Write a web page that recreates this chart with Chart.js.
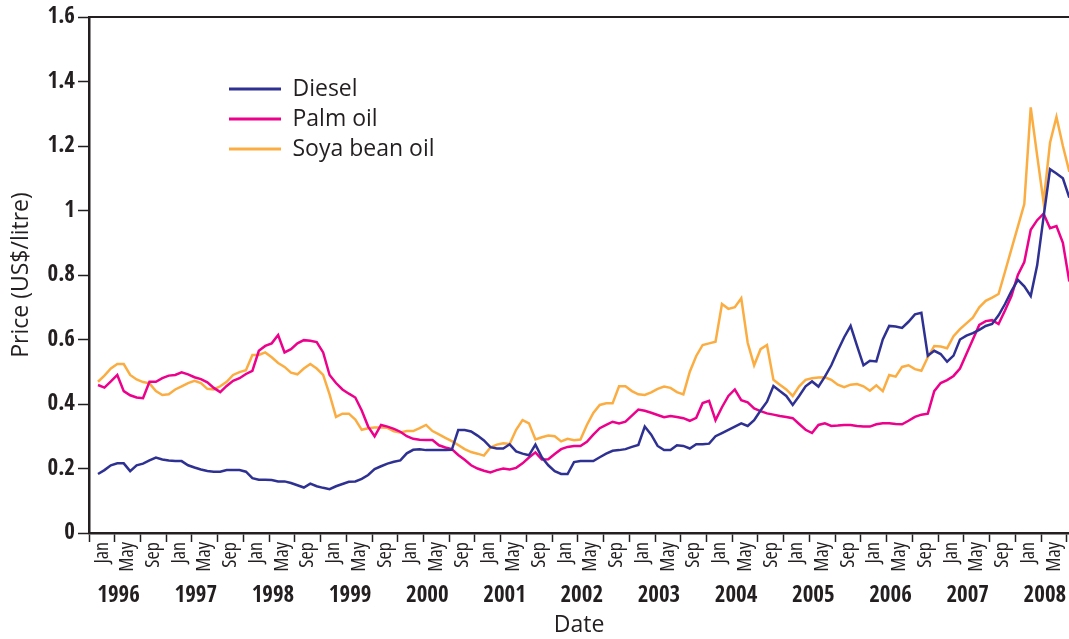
<!DOCTYPE html>
<html>
<head>
<meta charset="utf-8">
<script src="https://cdn.jsdelivr.net/npm/chart.js@4/dist/chart.umd.min.js"></script>
<style>
  html, body { margin: 0; padding: 0; background: #ffffff; }
  #wrap { width: 1069px; height: 639px; position: relative; }
</style>
</head>
<body>
<div id="wrap"><canvas id="c"></canvas></div>
<script>
// ---- data ----
const years = [1996, 1997, 1998, 1999, 2000, 2001, 2002, 2003, 2004, 2005, 2006, 2007, 2008];
const tickMonths = ['Jan', 'May', 'Sep'];
const monthNames = ['Jan','Feb','Mar','Apr','May','Jun','Jul','Aug','Sep','Oct','Nov','Dec'];
const categories = [];
years.forEach(y => monthNames.forEach(m => categories.push(m + ' ' + y)));
categories.length = 152; // Jan 1996 .. Aug 2008

const diesel = [
0.183,0.195,0.21,0.216,0.216,0.192,0.21,0.215,0.225,0.234,
0.228,0.225,0.223,0.223,0.21,0.203,0.197,0.192,0.19,0.19,
0.195,0.195,0.195,0.19,0.17,0.165,0.165,0.164,0.16,0.16,
0.155,0.148,0.141,0.153,0.145,0.14,0.136,0.145,0.152,0.159,
0.16,0.168,0.18,0.198,0.207,0.215,0.221,0.225,0.247,0.258,
0.26,0.257,0.257,0.257,0.257,0.258,0.319,0.319,0.315,0.302,
0.287,0.266,0.262,0.262,0.275,0.253,0.246,0.241,0.274,0.235,
0.21,0.192,0.183,0.183,0.22,0.223,0.223,0.223,0.235,0.246,
0.255,0.257,0.26,0.267,0.273,0.33,0.305,0.27,0.257,0.257,
0.272,0.27,0.262,0.275,0.275,0.277,0.30,0.31,0.32,0.33,
0.34,0.332,0.35,0.38,0.407,0.456,0.44,0.425,0.397,0.425,
0.455,0.47,0.454,0.485,0.52,0.565,0.607,0.642,0.58,0.52,
0.534,0.532,0.60,0.642,0.64,0.636,0.655,0.678,0.683,0.55,
0.565,0.555,0.531,0.55,0.60,0.612,0.62,0.63,0.642,0.648,
0.675,0.71,0.75,0.785,0.765,0.735,0.83,0.98,1.128,1.115,
1.1,1.04];

const palmOil = [
0.459,0.451,0.47,0.49,0.44,0.427,0.42,0.418,0.469,0.469,
0.48,0.488,0.49,0.498,0.492,0.483,0.477,0.467,0.45,0.437,
0.456,0.472,0.48,0.493,0.503,0.565,0.58,0.588,0.614,0.56,
0.57,0.588,0.598,0.596,0.592,0.56,0.49,0.465,0.445,0.432,
0.42,0.38,0.33,0.3,0.335,0.33,0.323,0.314,0.30,0.292,
0.289,0.288,0.288,0.272,0.265,0.26,0.242,0.227,0.21,0.2,
0.193,0.188,0.195,0.2,0.197,0.202,0.216,0.234,0.25,0.228,
0.229,0.245,0.26,0.267,0.27,0.27,0.283,0.305,0.325,0.335,
0.345,0.34,0.345,0.364,0.383,0.379,0.373,0.366,0.359,0.363,
0.36,0.356,0.348,0.357,0.403,0.41,0.35,0.39,0.425,0.445,
0.412,0.405,0.386,0.378,0.371,0.367,0.363,0.36,0.356,0.338,
0.32,0.31,0.335,0.34,0.332,0.333,0.335,0.335,0.332,0.33,
0.33,0.337,0.34,0.34,0.338,0.337,0.348,0.36,0.367,0.37,
0.44,0.465,0.474,0.487,0.51,0.555,0.6,0.645,0.657,0.66,
0.648,0.69,0.735,0.8,0.84,0.94,0.97,0.99,0.945,0.952,
0.9,0.78];

const soyaBeanOil = [
0.469,0.488,0.51,0.524,0.524,0.49,0.476,0.468,0.464,0.44,
0.428,0.43,0.445,0.455,0.465,0.472,0.465,0.447,0.445,0.455,
0.469,0.49,0.499,0.505,0.552,0.552,0.56,0.545,0.527,0.515,
0.497,0.492,0.51,0.524,0.51,0.49,0.43,0.36,0.37,0.37,
0.352,0.32,0.325,0.327,0.327,0.326,0.315,0.312,0.316,0.316,
0.325,0.335,0.316,0.306,0.295,0.285,0.273,0.26,0.251,0.246,
0.24,0.265,0.274,0.278,0.276,0.32,0.35,0.34,0.29,0.297,
0.302,0.3,0.284,0.292,0.288,0.29,0.335,0.372,0.397,0.402,
0.402,0.455,0.455,0.44,0.43,0.428,0.436,0.447,0.454,0.45,
0.437,0.43,0.5,0.549,0.583,0.588,0.593,0.71,0.695,0.70,
0.728,0.59,0.52,0.57,0.583,0.475,0.46,0.445,0.425,0.455,
0.475,0.48,0.482,0.483,0.475,0.46,0.452,0.46,0.462,0.455,
0.441,0.458,0.44,0.49,0.485,0.515,0.52,0.508,0.503,0.545,
0.58,0.578,0.573,0.61,0.632,0.65,0.668,0.70,0.72,0.73,
0.741,0.81,0.88,0.95,1.02,1.32,1.17,1.025,1.21,1.29,
1.2,1.12];

const yTicks = [0, 0.2, 0.4, 0.6, 0.8, 1, 1.2, 1.4, 1.6];

// ---- layout / style constants ----
const T0 = -1.4;          // axis boundary of Jan 1996 (in months from first data point)
const X_MAX = 150.95;     // right edge of the plot (chart is cropped there)
const YEAR_OFFSET = 4.6;  // year label position within each year
const INK = '#231f20';
const BOLD_COND = "'Open Sans Condensed', 'Roboto Condensed', sans-serif";
const TEXT_FONT = "'Open Sans', 'Noto Sans', sans-serif";
const LEGEND_X = 229, LEGEND_Y = 77.5;

const toPoints = arr => arr.map((v, i) => ({ x: i, y: v }));

const legendPlace = {
  id: 'legendPlace',
  afterLayout(chart) {
    const lg = chart.legend;
    if (!lg) return;
    const pad = lg.options.labels.padding;
    const w = lg.width, h = lg.height;
    lg.left = LEGEND_X - pad; lg.top = LEGEND_Y - pad;
    lg.right = lg.left + w; lg.bottom = lg.top + h;
  }
};

new Chart(document.getElementById('c'), {
  type: 'line',
  data: {
    datasets: [
      { label: 'Diesel', data: toPoints(diesel), borderColor: '#2E3192', backgroundColor: '#2E3192' },
      { label: 'Palm oil', data: toPoints(palmOil), borderColor: '#EC008C', backgroundColor: '#EC008C' },
      { label: 'Soya bean oil', data: toPoints(soyaBeanOil), borderColor: '#FBAD42', backgroundColor: '#FBAD42' }
    ]
  },
  options: {
    responsive: true,
    maintainAspectRatio: false,
    devicePixelRatio: 1,
    animation: false,
    layout: { padding: { top: 17, left: 0, right: 0, bottom: 0 } },
    elements: {
      line: { borderWidth: 2.5, tension: 0, borderJoinStyle: 'miter' },
      point: { radius: 0, hoverRadius: 0 }
    },
    plugins: {
      tooltip: { enabled: false },
      legend: {
        position: 'chartArea',
        align: 'start',
        labels: {
          boxWidth: 52, boxHeight: 3, padding: 7, color: INK,
          font: { family: TEXT_FONT, size: 23 },
          generateLabels: (chart) => Chart.defaults.plugins.legend.labels.generateLabels(chart)
            .map(l => Object.assign(l, { lineWidth: 0, fillStyle: l.strokeStyle }))
        }
      }
    },
    scales: {
      x: {
        type: 'linear', position: 'bottom', weight: 0,
        min: T0, max: X_MAX,
        afterBuildTicks: (s) => {
          const t = [];
          for (let j = 0; T0 + 2 * j <= X_MAX + 1e-6; j++) t.push({ value: T0 + 2 * j });
          s.ticks = t;
        },
        afterFit: (s) => { s.height = 42; s.paddingLeft = 0; s.paddingRight = 0; },
        ticks: {
          autoSkip: false, minRotation: 90, maxRotation: 90, padding: 0, color: INK,
          font: { family: "'Open Sans', sans-serif", size: 20, weight: 'condensed' },
          callback: (v, i) => (i % 2 === 1 ? tickMonths[((i - 1) / 2) % 3] : '')
        },
        grid: {
          drawOnChartArea: false, drawTicks: true, tickLength: 9, tickWidth: 1.5,
          tickColor: (ctx) => (ctx.index % 2 === 0 ? INK : 'rgba(0,0,0,0)')
        },
        border: { display: true, color: INK, width: 2.5 }
      },
      yearAxis: {
        type: 'linear', position: 'bottom', weight: 1,
        min: T0, max: X_MAX,
        afterBuildTicks: (s) => { s.ticks = years.map((y, k) => ({ value: T0 + YEAR_OFFSET + 12 * k })); },
        afterFit: (s) => { s.height = 64; s.paddingLeft = 0; s.paddingRight = 0; },
        ticks: {
          autoSkip: false, maxRotation: 0, minRotation: 0, padding: 7, color: INK,
          font: { family: BOLD_COND, size: 23, weight: 'bold' },
          callback: (v, i) => String(years[i])
        },
        grid: { display: false, drawTicks: false },
        border: { display: false },
        title: { display: true, text: 'Date', color: INK, font: { family: TEXT_FONT, size: 23 }, padding: { top: 0, bottom: 0 } }
      },
      topBorder: {
        type: 'linear', position: 'top', min: 0, max: 1,
        ticks: { display: false },
        grid: { display: false, drawTicks: false },
        border: { display: true, color: INK, width: 2 }
      },
      y: {
        type: 'linear', position: 'left', min: 0, max: 1.6,
        afterBuildTicks: (s) => { s.ticks = yTicks.map(v => ({ value: v })); },
        afterFit: (s) => { s.width = 89; s.paddingTop = 0; s.paddingBottom = 0; },
        ticks: {
          padding: 3, color: INK,
          font: { family: BOLD_COND, size: 23, weight: 'bold' },
          callback: (v) => String(Number(v.toFixed(1)))
        },
        grid: { drawOnChartArea: false, drawTicks: true, tickLength: 11, tickWidth: 1.5, tickColor: INK },
        border: { display: true, color: INK, width: 2.5 },
        title: { display: true, text: 'Price (US$/litre)', color: INK, font: { family: TEXT_FONT, size: 23 }, padding: { top: 8, bottom: 0 } }
      }
    }
  },
  plugins: [legendPlace]
});
</script>
</body>
</html>
